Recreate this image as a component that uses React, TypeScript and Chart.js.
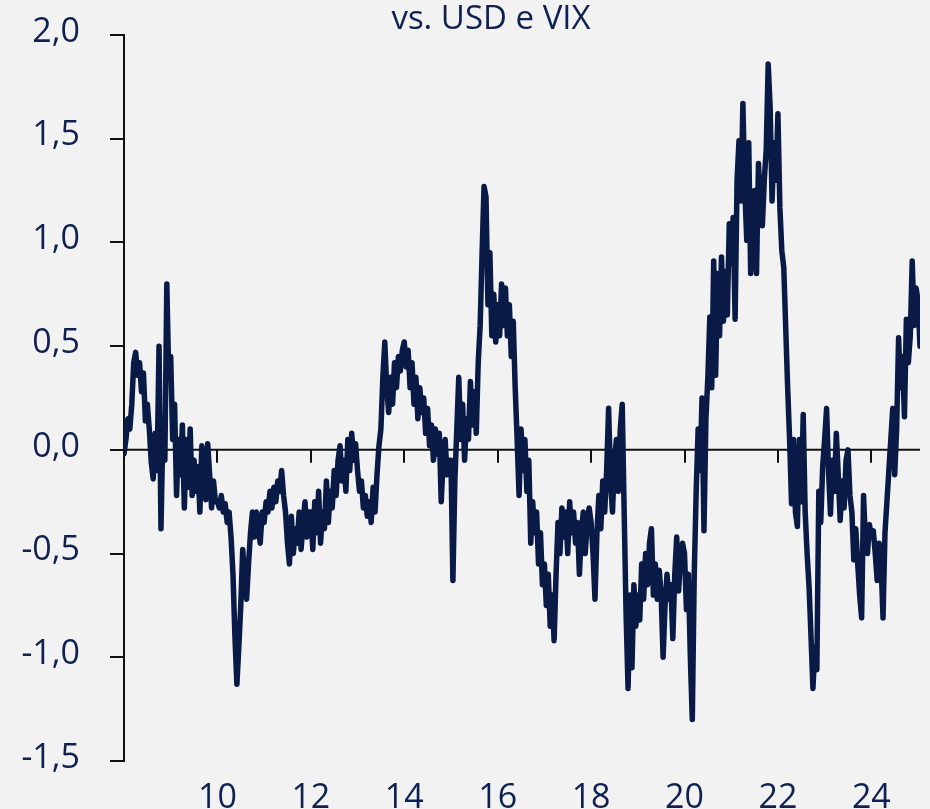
import React, { useEffect, useRef } from 'react';
import { Chart, registerables } from 'chart.js';

Chart.register(...registerables);

const TITLE = 'vs. USD e VIX';
const START_YEAR = 2008;
const STEPS_PER_YEAR = 24;

const y2008 = [-0.02, 0.05, 0.15, 0.1, 0.22, 0.42, 0.47, 0.36, 0.42, 0.28, 0.37, 0.14, 0.22, 0.1, -0.06, -0.14, 0.08, -0.1, 0.5, -0.38, 0.1, -0.05, 0.8, 0.35];
const y2009 = [0.45, 0.05, 0.22, -0.22, 0.05, -0.12, 0.12, -0.28, 0.05, -0.18, 0.1, -0.22, -0.05, -0.2, -0.08, -0.3, 0.02, -0.12, -0.24, 0.03, -0.12, -0.28, -0.15, -0.25];
const y2010 = [-0.25, -0.28, -0.22, -0.3, -0.26, -0.35, -0.3, -0.42, -0.6, -0.9, -1.13, -0.95, -0.75, -0.48, -0.62, -0.72, -0.55, -0.4, -0.3, -0.42, -0.3, -0.38, -0.45, -0.3];
const y2011 = [-0.35, -0.25, -0.3, -0.2, -0.28, -0.18, -0.25, -0.15, -0.2, -0.1, -0.22, -0.3, -0.45, -0.55, -0.32, -0.5, -0.38, -0.45, -0.3, -0.48, -0.35, -0.25, -0.42, -0.3];
const y2012 = [-0.3, -0.48, -0.25, -0.4, -0.2, -0.45, -0.3, -0.38, -0.15, -0.35, -0.2, -0.28, -0.1, -0.22, -0.05, 0.02, -0.15, -0.05, -0.2, 0.05, -0.1, 0.08, -0.05, 0.03];
const y2013 = [-0.1, -0.2, -0.15, -0.28, -0.22, -0.32, -0.25, -0.35, -0.18, -0.3, -0.12, 0.02, 0.1, 0.35, 0.52, 0.3, 0.18, 0.35, 0.22, 0.42, 0.3, 0.45, 0.38, 0.48];
const y2014 = [0.52, 0.4, 0.48, 0.3, 0.42, 0.22, 0.35, 0.15, 0.3, 0.18, 0.25, 0.08, 0.2, 0.02, 0.12, -0.05, 0.1, -0.02, 0.08, -0.25, -0.05, 0.05, -0.12, -0.05];
const y2015 = [-0.05, -0.63, -0.15, 0.1, 0.35, 0.05, 0.22, -0.05, 0.15, 0.05, 0.33, 0.12, 0.28, 0.08, 0.42, 0.6, 0.95, 1.27, 1.22, 0.7, 0.95, 0.55, 0.75, 0.52];
const y2016 = [0.7, 0.55, 0.8, 0.6, 0.78, 0.55, 0.7, 0.45, 0.62, 0.3, 0.05, -0.22, 0.1, -0.1, 0.05, -0.2, -0.05, -0.45, -0.25, -0.4, -0.3, -0.55, -0.4, -0.65];
const y2017 = [-0.55, -0.75, -0.6, -0.85, -0.7, -0.92, -0.6, -0.35, -0.5, -0.28, -0.42, -0.3, -0.5, -0.25, -0.4, -0.3, -0.45, -0.35, -0.6, -0.4, -0.3, -0.5, -0.35, -0.28];
const y2018 = [-0.35, -0.5, -0.72, -0.4, -0.22, -0.38, -0.15, -0.3, -0.1, 0.2, -0.15, -0.3, -0.05, 0.05, -0.2, 0.1, 0.22, -0.3, -0.8, -1.15, -0.7, -1.05, -0.65, -0.85];
const y2019 = [-0.7, -0.82, -0.55, -0.72, -0.5, -0.65, -0.45, -0.38, -0.7, -0.55, -0.72, -0.58, -0.7, -1.0, -0.75, -0.6, -0.72, -0.65, -0.91, -0.6, -0.42, -0.68, -0.5, -0.45];
const y2020 = [-0.5, -0.77, -0.6, -1.0, -1.3, -0.6, -0.2, 0.1, -0.1, 0.25, -0.39, 0.15, 0.35, 0.64, 0.3, 0.91, 0.36, 0.85, 0.55, 0.93, 0.62, 0.86, 0.65, 1.09];
const y2021 = [0.9, 1.12, 0.63, 1.3, 1.49, 1.2, 1.67, 1.25, 1.01, 1.48, 0.85, 1.0, 1.25, 0.85, 1.38, 1.19, 1.08, 1.3, 1.45, 1.86, 1.65, 1.2, 1.48, 1.3];
const y2022 = [1.62, 1.17, 0.96, 0.88, 0.59, 0.3, 0.05, -0.26, 0.05, -0.3, -0.37, 0.05, -0.25, 0.17, -0.3, -0.5, -0.66, -0.9, -1.15, -0.95, -1.06, -0.2, -0.35, -0.08];
const y2023 = [0.05, 0.2, -0.1, -0.31, -0.05, -0.2, 0.08, -0.12, -0.34, -0.15, -0.28, -0.05, 0.0, -0.22, -0.3, -0.53, -0.38, -0.55, -0.7, -0.81, -0.22, -0.45, -0.5, -0.36];
const y2024 = [-0.42, -0.39, -0.5, -0.63, -0.45, -0.55, -0.81, -0.4, -0.25, -0.1, 0.05, 0.2, -0.12, 0.1, 0.54, 0.3, 0.45, 0.16, 0.63, 0.42, 0.55, 0.91, 0.6, 0.78];
const y2025 = [0.72, 0.5];

const yearlyValues = [y2008, y2009, y2010, y2011, y2012, y2013, y2014, y2015, y2016, y2017, y2018, y2019, y2020, y2021, y2022, y2023, y2024, y2025];

const xTickYears = [2010, 2012, 2014, 2016, 2018, 2020, 2022, 2024];
const yTickValues = [-1.5, -1.0, -0.5, 0, 0.5, 1.0, 1.5, 2.0];

const FONT = '"Open Sans", "Noto Sans", sans-serif';
const TEXT_COLOR = '#0f2150';
const LINE_COLOR = '#081a45';
const BG = '#f2f2f2';

export default function App() {
  const ref = useRef<HTMLCanvasElement | null>(null);

  useEffect(() => {
    document.body.style.margin = '0';
    document.body.style.background = BG;
    const canvas = ref.current;
    if (!canvas) return;

    const points = yearlyValues.flatMap((arr, k) =>
      arr.map((v, i) => ({ x: START_YEAR + k + i / STEPS_PER_YEAR, y: v }))
    );
    const xMax = points[points.length - 1].x;

    const bgPlugin = {
      id: 'bgFill',
      beforeDraw(chart: any) {
        const { ctx, width, height } = chart;
        ctx.save();
        ctx.fillStyle = BG;
        ctx.fillRect(0, 0, width, height);
        ctx.restore();
      },
    };

    const zeroLinePlugin = {
      id: 'zeroLine',
      beforeDatasetsDraw(chart: any) {
        const { ctx, chartArea, scales } = chart;
        const y0 = scales.y.getPixelForValue(0);
        ctx.save();
        ctx.strokeStyle = '#111111';
        ctx.lineWidth = 2;
        ctx.beginPath();
        ctx.moveTo(chartArea.left, y0);
        ctx.lineTo(chartArea.right, y0);
        scales.x.ticks.forEach((t: any) => {
          const x = Math.round(scales.x.getPixelForValue(t.value));
          ctx.moveTo(x, y0);
          ctx.lineTo(x, y0 + 13);
        });
        ctx.stroke();
        ctx.restore();
      },
    };

    const titlePlugin = {
      id: 'topTitle',
      afterDraw(chart: any) {
        const { ctx } = chart;
        ctx.save();
        ctx.font = `33px ${FONT}`;
        ctx.fillStyle = TEXT_COLOR;
        ctx.textAlign = 'center';
        ctx.textBaseline = 'alphabetic';
        ctx.fillText(TITLE, 491, 29);
        ctx.restore();
      },
    };

    const chart = new Chart(canvas, {
      type: 'line',
      data: {
        datasets: [
          {
            data: points,
            borderColor: LINE_COLOR,
            borderWidth: 5.5,
            borderJoinStyle: 'round',
            borderCapStyle: 'round',
            pointRadius: 0,
            tension: 0,
            fill: false,
          },
        ],
      },
      options: {
        responsive: false,
        animation: false,
        devicePixelRatio: 1,
        parsing: false as any,
        layout: { padding: { top: 35, right: 10, bottom: 0, left: 0 } },
        plugins: {
          legend: { display: false },
          tooltip: { enabled: false },
          title: { display: false },
        },
        scales: {
          x: {
            type: 'linear',
            min: START_YEAR,
            max: xMax,
            afterBuildTicks: (scale: any) => {
              scale.ticks = xTickYears.map((v) => ({ value: v }));
            },
            afterFit: (scale: any) => {
              scale.height = 48;
              scale.paddingLeft = 0;
              scale.paddingRight = 0;
            },
            grid: { display: false, drawTicks: false },
            border: { display: false },
            ticks: {
              padding: 17,
              color: TEXT_COLOR,
              font: { family: FONT, size: 34 },
              maxRotation: 0,
              autoSkip: false,
              callback: (v: any) => String(v).slice(2),
            },
          },
          y: {
            type: 'linear',
            min: -1.5,
            max: 2.0,
            afterBuildTicks: (scale: any) => {
              scale.ticks = yTickValues.map((v) => ({ value: v }));
            },
            afterFit: (scale: any) => {
              scale.width = 124;
              scale.paddingTop = 0;
              scale.paddingBottom = 0;
            },
            grid: {
              display: true,
              drawOnChartArea: false,
              drawTicks: true,
              tickLength: 14,
              color: '#111111',
              lineWidth: 2,
            },
            border: { display: true, color: '#111111', width: 2 },
            ticks: {
              padding: 30,
              labelOffset: -3,
              color: TEXT_COLOR,
              font: { family: FONT, size: 34 },
              autoSkip: false,
              callback: (v: any) => Number(v).toFixed(1).replace('.', ','),
            },
          },
        },
      },
      plugins: [bgPlugin, zeroLinePlugin, titlePlugin],
    } as any);

    return () => chart.destroy();
  }, []);

  return (
    <div style={{ width: 930, height: 809, background: BG }}>
      <canvas ref={ref} width={930} height={809} style={{ display: 'block' }} />
    </div>
  );
}
